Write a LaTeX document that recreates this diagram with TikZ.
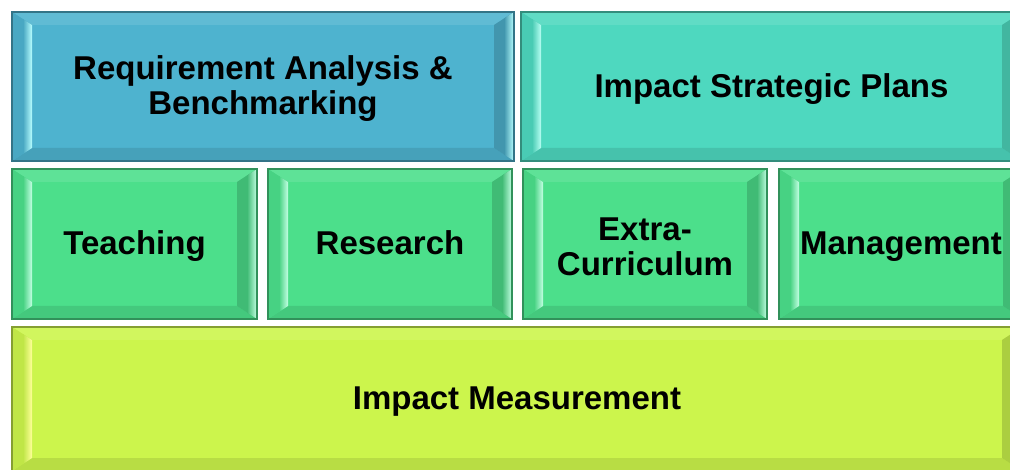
\documentclass[tikz,border=0pt]{standalone}
\usepackage{fontspec}
\setmainfont{Liberation Sans}
\usetikzlibrary{calc}
\definecolor{cblue}{HTML}{4EB3CF}
\definecolor{cteal}{HTML}{4ED8BF}
\definecolor{cgreen}{HTML}{4CDF8B}
\definecolor{cyellow}{HTML}{CCF54C}
\definecolor{hlblue}{HTML}{B8FFFF}
\definecolor{hlteal}{HTML}{B8FFF4}
\definecolor{hlgreen}{HTML}{C4FFE4}
\definecolor{hlyellow}{HTML}{FFFF9A}
\tikzset{
  x=1pt, y=-1pt,
  boxstyle/.style={rectangle, inner sep=0pt, outer sep=0pt},
  labelstyle/.style={inner sep=0pt, align=center,
    font=\bfseries\fontsize{33}{35}\selectfont, text=black},
}
% name, x1, y1, x2, y2, colour, highlight, text
\newcommand\bevbox[8]{%
  \node[boxstyle, fill=#6, minimum width={(#4-#2)*1pt}, minimum height={(#5-#3)*1pt}]
    (#1) at ({(#2+#4)/2},{(#3+#5)/2}) {};
  \coordinate (#1-a) at ($(#1.north west)+(20,13)$);
  \coordinate (#1-b) at ($(#1.north east)+(-20,13)$);
  \coordinate (#1-c) at ($(#1.south east)+(-20,-13)$);
  \coordinate (#1-d) at ($(#1.south west)+(20,-13)$);
  \coordinate (#1-a2) at ($(#1.north west)!0.55!(#1-a)$);
  \coordinate (#1-d2) at ($(#1.south west)!0.55!(#1-d)$);
  \coordinate (#1-b2) at ($(#1.north east)!0.5!(#1-b)$);
  \coordinate (#1-c2) at ($(#1.south east)!0.5!(#1-c)$);
  \fill[#6!90!white] (#1.north west) -- (#1.north east) -- (#1-b) -- (#1-a) -- cycle;
  \fill[#6!90!black] (#1.south west) -- (#1.south east) -- (#1-c) -- (#1-d) -- cycle;
  \fill[#6!94!black] (#1.north west) -- (#1-a) -- (#1-d) -- (#1.south west) -- cycle;
  \shade[left color=#6!94!black, right color=#7]
    (#1-a2) -- (#1-a) -- (#1-d) -- (#1-d2) -- cycle;
  \fill[#6!84!black] (#1.north east) -- (#1-b) -- (#1-c) -- (#1.south east) -- cycle;
  \shade[left color=#6!84!black, right color=#7]
    (#1-b2) -- (#1.north east) -- (#1.south east) -- (#1-c2) -- cycle;
  \draw[#6!65!black, line width=1.2pt] (#1.north west) rectangle (#1.south east);
  \node[labelstyle] (#1-t) at ($(#1.center)+(0,2.5)$) {#8};
}
\begin{document}
\begin{tikzpicture}
  \useasboundingbox (0,0) rectangle (1010,470);
  \fill[white] (0,0) rectangle (1010,470);
  \clip (0,0) rectangle (1010,470);
  \bevbox{req}{12}{12}{514}{161}{cblue}{hlblue}{Requirement Analysis \&\\Benchmarking}
  \bevbox{isp}{521}{12}{1022}{161}{cteal}{hlteal}{Impact Strategic Plans}
  \bevbox{teach}{12}{169}{257}{319}{cgreen}{hlgreen}{Teaching}
  \bevbox{res}{268}{169}{512}{319}{cgreen}{hlgreen}{Research\vphantom{g}}
  \bevbox{extra}{523}{169}{767}{319}{cgreen}{hlgreen}{Extra-\\Curriculum}
  \bevbox{mgmt}{779}{169}{1023}{319}{cgreen}{hlgreen}{Management}
  \bevbox{meas}{12}{327}{1022}{471}{cyellow}{hlyellow}{Impact Measurement}
\end{tikzpicture}
\end{document}
